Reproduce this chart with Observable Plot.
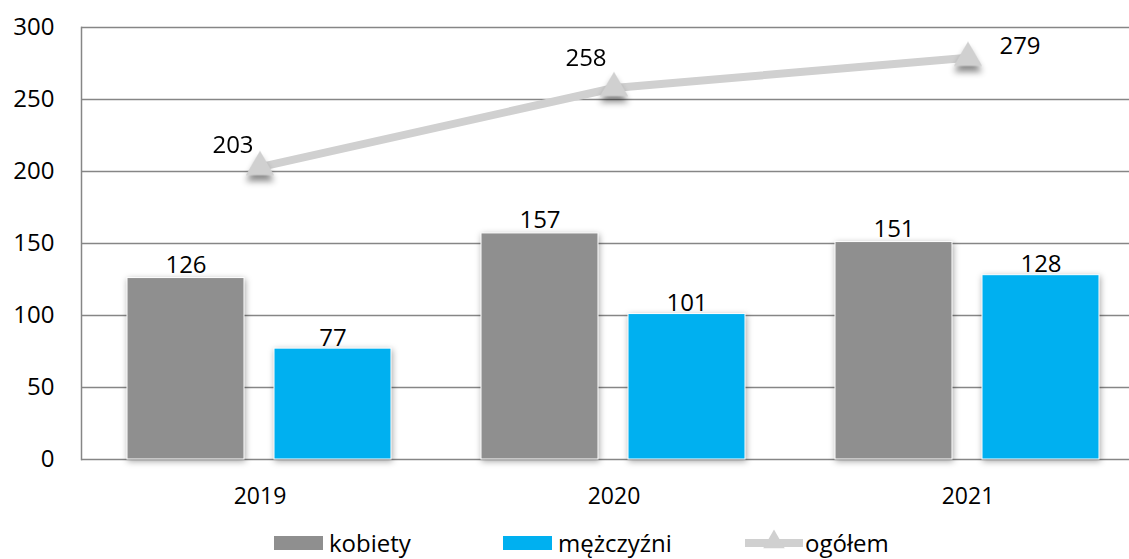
<!DOCTYPE html>
<html>
<head>
<meta charset="utf-8">
<script src="https://cdn.jsdelivr.net/npm/d3@7"></script>
<script src="https://cdn.jsdelivr.net/npm/@observablehq/plot@0.6"></script>
<style>
  body { margin: 0; background: #fff; font-family: "Open Sans", sans-serif; }
  #wrap { position: relative; width: 1129px; height: 559px; overflow: hidden; }
  #legend { position: absolute; left: 0; top: 526px; width: 1129px; height: 33px; font-size: 24px; color: #000; }
  .item { position: absolute; top: 0; display: flex; align-items: center; height: 33px; }
  .sw { display: inline-block; width: 49px; height: 14px; margin-right: 6px; }
</style>
</head>
<body>
<div id="wrap">
  <div id="chart"></div>
  <div id="legend"></div>
</div>
<script>
const years = ["2019", "2020", "2021"];
const kobiety = [126, 157, 151];
const mezczyzni = [77, 101, 128];
const ogolem = [203, 258, 279];
const yTicks = [0, 50, 100, 150, 200, 250, 300];
const seriesNames = ["kobiety", "mężczyźni", "ogółem"];
const colors = ["#8f8f8f", "#00b0f0", "#d0d0d0"];

const rows = years.map((year, i) => ({year, kobiety: kobiety[i], mezczyzni: mezczyzni[i], ogolem: ogolem[i]}));

const font = "'Open Sans', sans-serif";

const plot = Plot.plot({
  width: 1129,
  height: 526,
  marginLeft: 81,
  marginRight: 0,
  marginTop: 27,
  marginBottom: 67,
  style: {fontFamily: font, fontSize: "24px", color: "#000", background: "transparent"},
  x: {domain: years, range: [81.5, 1146], paddingInner: 0.67, paddingOuter: 0.335},
  y: {domain: [0, 300]},
  marks: [
    Plot.gridY(yTicks, {stroke: "#868686", strokeOpacity: 1, strokeWidth: 1.5}),
    Plot.frame({anchor: "left", stroke: "#868686", strokeWidth: 1.5}),
    Plot.axisY(yTicks, {tickSize: 0, tickPadding: 27, fontSize: 24, label: null}),
    Plot.axisX({tickSize: 0, tickPadding: 28, fontSize: 23, label: null}),
    Plot.barY(rows, {x: "year", y: "kobiety", fill: colors[0], stroke: "#fff", strokeWidth: 1, dx: -74}),
    Plot.barY(rows, {x: "year", y: "mezczyzni", fill: colors[1], stroke: "#fff", strokeWidth: 1, dx: 73}),
    Plot.text(rows, {x: "year", y: "kobiety", text: d => String(d.kobiety), dx: -74, dy: -5, lineAnchor: "bottom", fontSize: 24, fill: "#000"}),
    Plot.text(rows, {x: "year", y: "mezczyzni", text: d => String(d.mezczyzni), dx: 73, dy: -3, lineAnchor: "bottom", fontSize: 24, fill: "#000"}),
    Plot.line(rows, {x: "year", y: "ogolem", stroke: colors[2], strokeWidth: 8}),
    Plot.dot(rows, {x: "year", y: "ogolem", symbol: "triangle", r: 10.5, fill: colors[2], stroke: null}),
    Plot.text(rows.slice(0, 1), {x: "year", y: "ogolem", text: d => String(d.ogolem), dx: -27, dy: -22, fontSize: 24, fill: "#000"}),
    Plot.text(rows.slice(1, 2), {x: "year", y: "ogolem", text: d => String(d.ogolem), dx: -28, dy: -30, fontSize: 24, fill: "#000"}),
    Plot.text(rows.slice(2, 3), {x: "year", y: "ogolem", text: d => String(d.ogolem), dx: 52, dy: -11, fontSize: 24, fill: "#000"})
  ]
});

const svg = d3.select(plot);
svg.selectAll('g[aria-label="bar"]').style("filter", "drop-shadow(1px 2px 3px rgba(0,0,0,0.35))");
svg.selectAll('g[aria-label="dot"]').style("filter", "drop-shadow(0px 6px 3px rgba(0,0,0,0.45))");
document.getElementById("chart").appendChild(plot);

// Legend
const legend = d3.select("#legend");
const lefts = [274, 503, 745];
seriesNames.forEach((name, i) => {
  const item = legend.append("div").attr("class", "item").style("left", lefts[i] + "px");
  if (i < 2) {
    item.append("span").attr("class", "sw").style("background", colors[i]);
  } else {
    const s = item.append("svg").attr("width", 58).attr("height", 30).style("margin-right", "2px");
    s.append("line").attr("x1", 0).attr("x2", 58).attr("y1", 15).attr("y2", 15)
      .attr("stroke", colors[i]).attr("stroke-width", 8).attr("stroke-linecap", "round");
    s.append("path").attr("transform", "translate(29,14)")
      .attr("d", d3.symbol(d3.symbolTriangle, 200)()).attr("fill", colors[i]);
  }
  item.append("span").text(name);
});
</script>
</body>
</html>
